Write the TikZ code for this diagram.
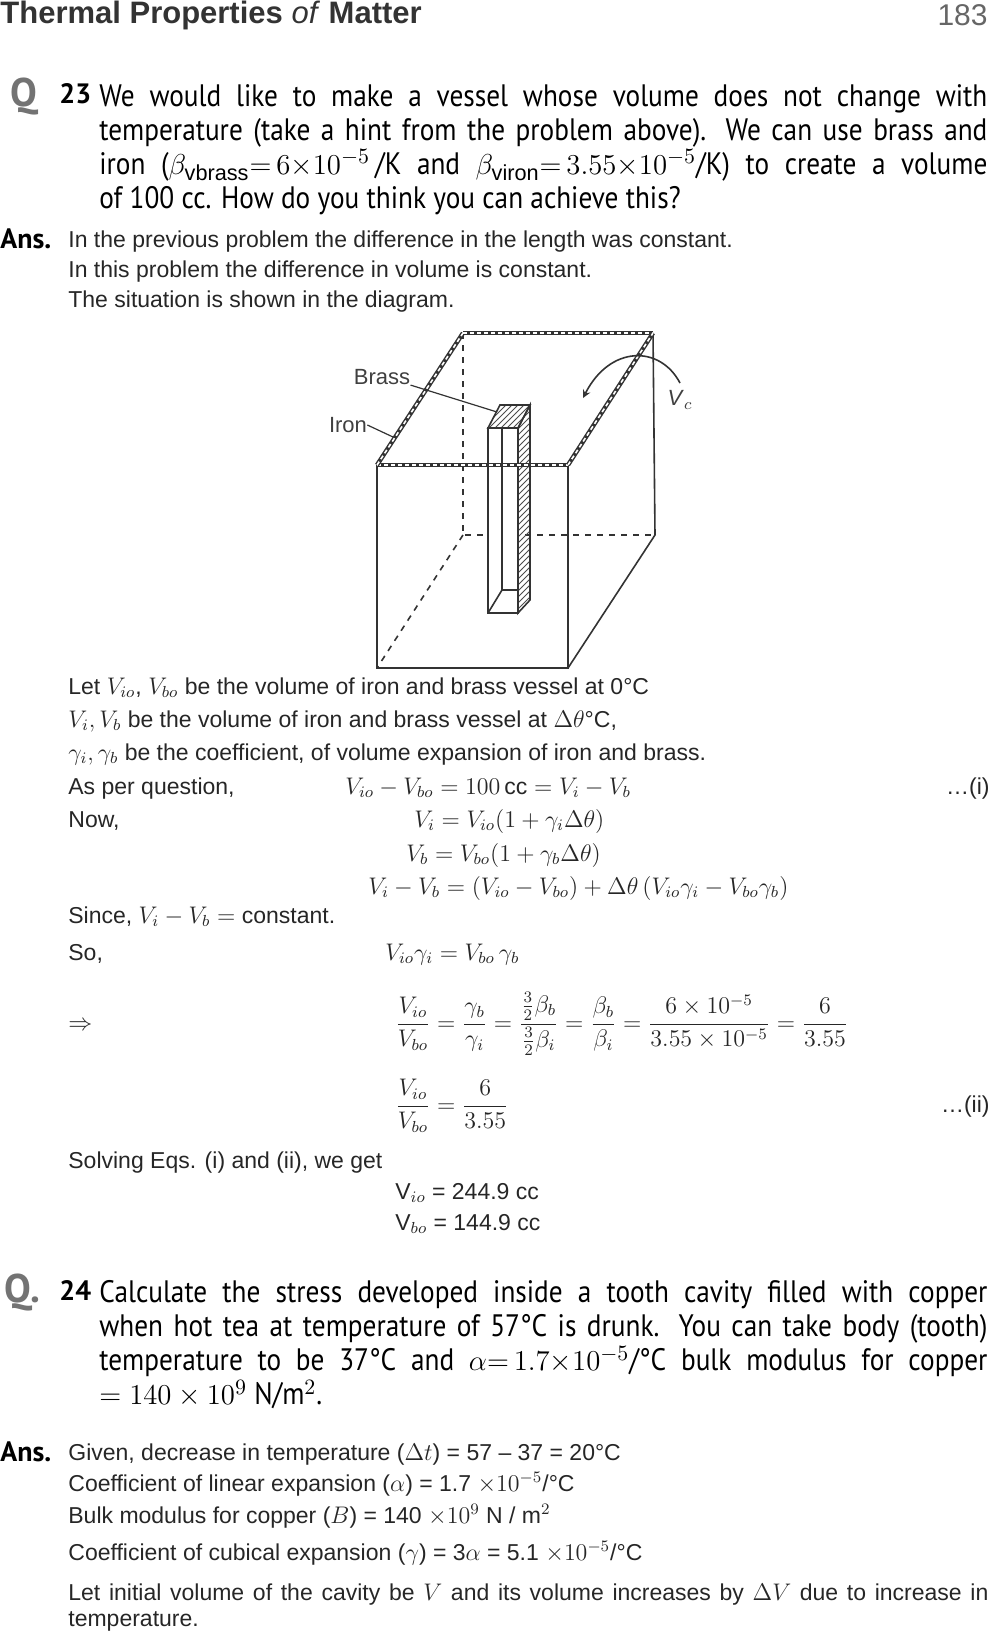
\documentclass[tikz,border=0pt]{standalone}
\usepackage{amsmath}
\usepackage{fontspec}
\setmainfont{Liberation Sans}
\newfontfamily\qfont[FakeStretch=0.88]{PT Sans}
\newfontfamily\qbold{PT Sans}
\usetikzlibrary{patterns}
\tikzset{
  txt/.style={anchor=base west, inner sep=0pt, font=\fontsize{11.5}{13}\selectfont\color{black!85}},
  qtxt/.style={anchor=north west, inner sep=0pt, text width=444pt, align=justify,
    font={\qfont\fontsize{15.5}{17}\selectfont\hyphenpenalty 10000 }},
  qmark/.style={anchor=base west, inner sep=0pt, font=\qbold\bfseries\fontsize{20}{20}\selectfont\color{black!55}},
  qnum/.style={anchor=base west, inner sep=0pt, font=\qbold\bfseries\fontsize{14}{14}\selectfont},
  anstag/.style={anchor=base west, inner sep=0pt, font=\qbold\bfseries\fontsize{14}{14}\selectfont},
  wall/.style={line width=2.2pt, draw=black!80},
  wallin/.style={line width=0.8pt, draw=white, dash pattern=on 2pt off 1.5pt},
  edge/.style={line width=0.8pt, draw=black!80},
  hidden/.style={edge, dashed},
  hatch/.style={edge, pattern=north east lines, pattern color=black!70},
  lbl/.style={inner sep=0pt, font=\fontsize{11}{12}\selectfont\color{black!75}}
}
\begin{document}
\begin{tikzpicture}[x=0.5pt, y=-0.5pt]
  \useasboundingbox (0,0) rectangle (999,1643);
  % header
  \node[anchor=base west, inner sep=0pt, font=\bfseries\fontsize{15.5}{15}\selectfont\color{black!80}]
    (title) at (0,24) {Thermal Properties \textit{\mdseries of} Matter};
  \node[anchor=base east, inner sep=0pt, font=\fontsize{15}{15}\selectfont\color{black!60}]
    (page) at (988,26) {183};
  % question 23
  \node[qmark] (q23) at (10,106) {Q};
  \node[qnum] (n23) at (59,104) {23};
  \node[qtxt] (q23a) at (99,84) {We would like to make a vessel whose volume does not change with\linebreak temperature (take a hint from the problem above). We can use brass and\linebreak iron ($\beta_{\mathrm{vbrass}}{=}\,6{\times}10^{-5}$\,/K and $\beta_{\mathrm{viron}}{=}\,3.55{\times}10^{-5}$/K) to create a volume\linebreak of 100 cc. How do you think you can achieve this?};
  \node[anstag] (ans23) at (0,248) {Ans.};
  \node[txt] (a1) at (68,247) {In the previous problem the difference in the length was constant.};
  \node[txt] (a2) at (68,277) {In this problem the difference in volume is constant.};
  \node[txt] (a3) at (68,307) {The situation is shown in the diagram.};
  % vessel
  \draw[hidden] (463,535) -- (377,668);
  \draw[hidden] (463,333) -- (463,535) -- (655,535);
  \draw[edge] (377,465) rectangle (568,668);
  \draw[edge] (568,668) -- (655,535) -- (653,333);
  % strip
  \draw[hatch] (518,428) -- (530,405) -- (530,600) -- (518,613) -- cycle;
  \draw[hatch] (488,428) -- (500,405) -- (530,405) -- (518,428) -- cycle;
  \draw[edge, fill=white] (488,428) rectangle (518,613);
  \draw[edge] (502,428) -- (502,590) -- (518,590);
  \draw[edge] (502,590) -- (488,613);
  % walls of the open top
  \foreach \a/\b in {{377,465}/{568,465}, {377,465}/{463,333}, {463,333}/{653,333}, {568,465}/{653,333}}{
    \draw[wall] (\a) -- (\b);
    \draw[wallin] (\a) -- (\b);
  }
  % labels
  \node[lbl] (brass) at (382,377) {Brass};
  \node[lbl] (iron) at (348,425) {Iron};
  \node[lbl] (vc) at (680,400) {\textit{V}$_c$};
  \coordinate (brasstip) at (497,412);
  \coordinate (irontip) at (393,437);
  \draw[edge, line width=0.6pt] (brass.south east) -- (brasstip);
  \draw[edge, line width=0.6pt] (iron.east) -- (irontip);
  \coordinate (vcstart) at (680,383);
  \coordinate (vcend) at (583,398);
  \draw[edge, ->, >=stealth] (vcstart) .. controls (660,345) and (610,345) .. (vcend);
  % equations
  \node[txt] (l1) at (68,694) {Let $V_{io}$, $V_{bo}$ be the volume of iron and brass vessel at 0°C};
  \node[txt] (l2) at (68,727) {$V_i, V_b$ be the volume of iron and brass vessel at $\Delta\theta$°C,};
  \node[txt] (l3) at (68,760) {$\gamma_i, \gamma_b$ be the coefficient, of volume expansion of iron and brass.};
  \node[txt] (l4) at (68,794) {As per question,};
  \node[txt] (e1) at (345,794) {$V_{io}-V_{bo}=100\,\mathrm{cc}=V_i-V_b$};
  \node[txt, anchor=base east] (t1) at (990,794) {\dots(i)};
  \node[txt] (l5) at (68,827) {Now,};
  \node[txt] (e2) at (414,827) {$V_i=V_{io}(1+\gamma_i\Delta\theta)$};
  \node[txt] (e3) at (406,861) {$V_b=V_{bo}(1+\gamma_b\Delta\theta)$};
  \node[txt] (e4) at (368,894) {$V_i-V_b=(V_{io}-V_{bo})+\Delta\theta\,(V_{io}\gamma_i-V_{bo}\gamma_b)$};
  \node[txt] (l6) at (68,923) {Since, $V_i-V_b=$ constant.};
  \node[txt] (l7) at (68,960) {So,};
  \node[txt] (e5) at (385,960) {$V_{io}\gamma_i=V_{bo}\,\gamma_b$};
  \node[txt] (l8) at (68,1030) {$\Rightarrow$};
  \node[txt] (e6) at (395,1030) {$\dfrac{V_{io}}{V_{bo}}=\dfrac{\gamma_b}{\gamma_i}=\dfrac{\frac32\beta_b}{\frac32\beta_i}=\dfrac{\beta_b}{\beta_i}=\dfrac{6\times10^{-5}}{3.55\times10^{-5}}=\dfrac{6}{3.55}$};
  \node[txt] (e7) at (395,1112) {$\dfrac{V_{io}}{V_{bo}}=\dfrac{6}{3.55}$};
  \node[txt, anchor=base east] (t2) at (990,1112) {\dots(ii)};
  \node[txt] (l9) at (68,1168) {Solving Eqs. (i) and (ii), we get};
  \node[txt] (e8) at (395,1199) {V$_{io}$ = 244.9 cc};
  \node[txt] (e9) at (395,1230) {V$_{bo}$ = 144.9 cc};
  % question 24
  \node[qmark] (q24) at (4,1302) {Q.};
  \node[qnum] (n24) at (59,1300) {24};
  \node[qtxt] (q24a) at (99,1280) {Calculate the stress developed inside a tooth cavity filled with copper\linebreak when hot tea at temperature of 57°C is drunk. You can take body (tooth)\linebreak temperature to be 37°C and $\alpha{=}\,1.7{\times}10^{-5}$/°C bulk modulus for copper\linebreak $=140\times10^{9}$ N/m$^2$.};
  \node[anstag] (ans24) at (0,1461) {Ans.};
  \node[txt] (b1) at (68,1460) {Given, decrease in temperature ($\Delta t$) = 57 -- 37 = 20°C};
  \node[txt] (b2) at (68,1491) {Coefficient of linear expansion ($\alpha$) = 1.7 $\times10^{-5}$/°C};
  \node[txt] (b3) at (68,1523) {Bulk modulus for copper ($B$) = 140 $\times10^{9}$ N / m$^2$};
  \node[txt] (b4) at (68,1560) {Coefficient of cubical expansion ($\gamma$) = 3$\alpha$ = 5.1 $\times10^{-5}$/°C};
  \node[txt, anchor=north west, text width=460pt, align=justify] (b5) at (68,1583)
    {Let initial volume of the cavity be $V$ and its volume increases by $\Delta V$ due to increase in temperature.};
\end{tikzpicture}
\end{document}
